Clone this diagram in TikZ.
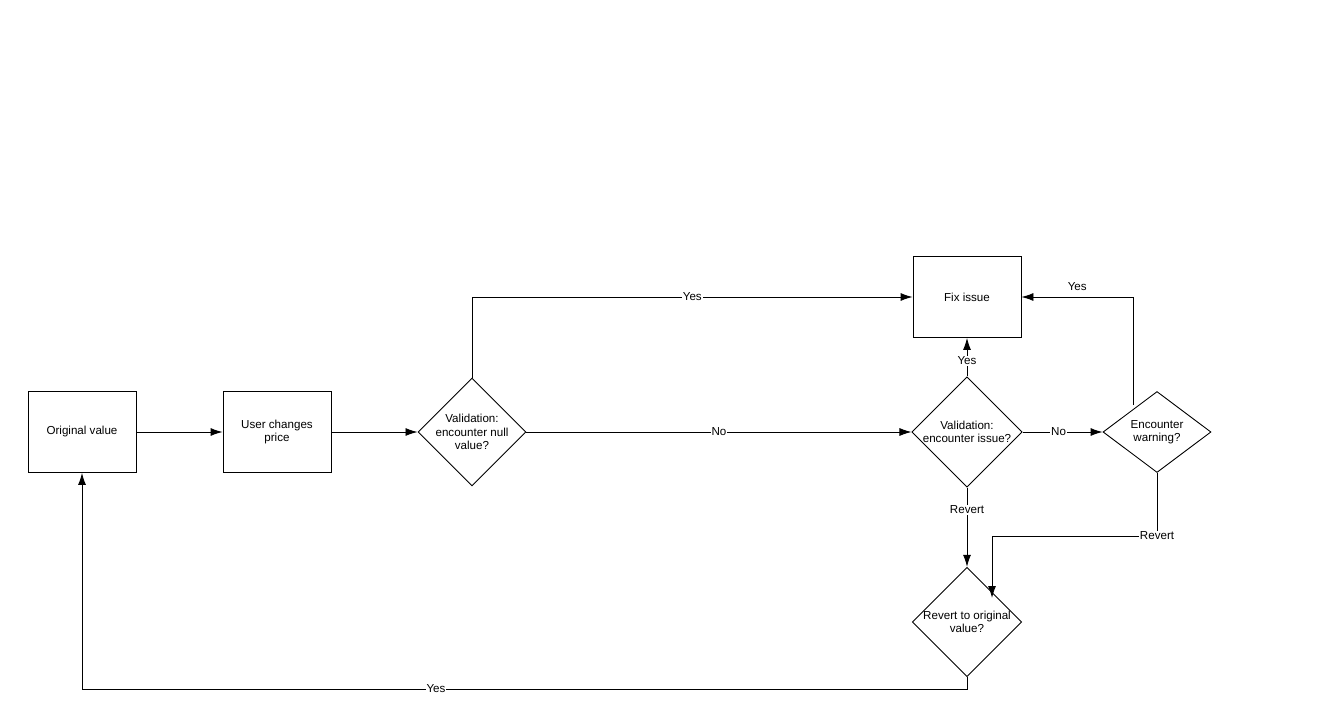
\documentclass[tikz,border=0pt]{standalone}
\usepackage{fontspec}
\setmainfont{Liberation Sans}
\usetikzlibrary{arrows.meta}
\usetikzlibrary{shapes.geometric}
\usetikzlibrary{positioning}
\tikzset{box/.style={draw, minimum width=2.16cm, minimum height=1.62cm, align=center, inner sep=0pt},
dec/.style={draw, diamond, minimum width=2.16cm, minimum height=1.62cm, align=center, inner sep=0pt},
lbl/.style={fill=white, inner sep=0.5pt},
flow/.style={-{Latex[length=2.4mm,width=1.6mm]}}}

\begin{document}
\begin{tikzpicture}[x=0.02cm, y=-0.02cm, font=\fontsize{6.6}{7.6}\selectfont, line width=0.5pt]
\useasboundingbox (0,0) rectangle (1321,709);

				\node[box] (orig) at (82,432) {Original value};
				\node[box] (user) at (277,432) {User changes\\price};
				\node[dec] (nullchk) at (472,432) {Validation:\\encounter null\\value?};
				\node[box] (fix) at (967,297) {Fix issue};
				\node[dec] (issue) at (967,432) {Validation:\\encounter issue?};
				\node[dec] (warn) at (1157,432) {Encounter\\warning?};
				\node[dec] (revert) at (967,622) {Revert to original\\value?};
				\coordinate (wt) at (1133,405);
				\coordinate (wb) at (992,598);

				\draw[flow] (orig) -- (user);
				\draw[flow] (user) -- (nullchk);
				\draw[flow] (nullchk.north) |- node[lbl, pos=0.75] {Yes} (fix.west);
				\draw[flow] (nullchk) -- node[lbl] {No} (issue);
				\draw[flow] (issue.north) -- node[lbl, pos=0.4] {Yes} (fix.south);
				\draw[flow] (issue) -- node[lbl, pos=0.45] {No} (warn);
				\draw[flow] (wt) |- node[above, pos=0.75] {Yes} (fix.east);
				\draw[flow] (issue.south) -- node[lbl, pos=0.28] {Revert} (revert.north);
				\draw[flow] (warn.south) -- (1157,536) node[lbl] {Revert} -- (992,536) -- (wb);
				\draw[flow] (revert.south) -- (967,689) -- node[lbl, pos=0.6] {Yes} (82,689) -- (orig.south);
			\end{tikzpicture}
\end{document}
